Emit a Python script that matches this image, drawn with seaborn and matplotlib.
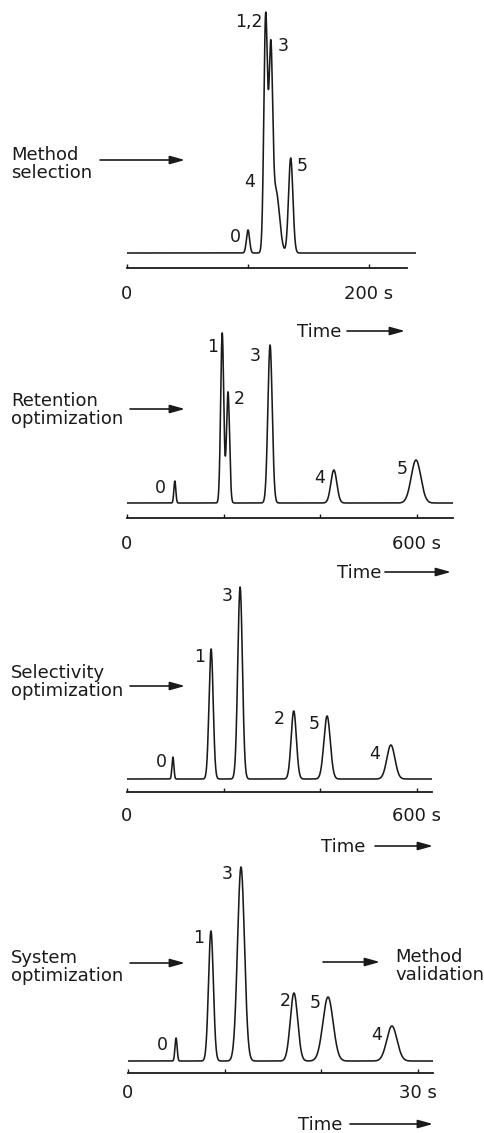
import numpy as np
import pandas as pd
import matplotlib
matplotlib.use("Agg")
import matplotlib.pyplot as plt
import seaborn as sns

# Peak tables
# (retention time in s, height in arbitrary detector units, width sigma in s)
p1_names = ["0", "1,2", "3", "4", "5"]
p1_times = [100.0, 114.6, 118.8, 123.1, 135.3]
p1_heights = [23, 236, 188, 62, 95]
p1_sigmas = [1.3, 1.5, 1.5, 2.9, 1.8]

p2_names = ["0", "1", "2", "3", "4", "5"]
p2_times = [99, 197, 209, 296, 428, 598]
p2_heights = [22, 170, 111, 158, 33, 43]
p2_sigmas = [2.0, 3.2, 3.2, 4.5, 6.2, 10.0]

p3_names = ["0", "1", "3", "2", "5", "4"]
p3_times = [95, 174, 234, 345, 414, 546]
p3_heights = [22, 130, 192, 68, 63, 34]
p3_sigmas = [2.0, 4.3, 4.8, 5.4, 6.6, 8.3]

p4_names = ["0", "1", "3", "2", "5", "4"]
p4_times = [4.97, 8.58, 11.69, 17.17, 20.69, 27.3]
p4_heights = [23, 130, 194, 68, 64, 35]
p4_sigmas = [0.11, 0.25, 0.36, 0.38, 0.53, 0.53]

stage_labels = ["Method\nselection", "Retention\noptimization",
                "Selectivity\noptimization", "System\noptimization"]
tick_values = [[0, 100, 200], [0, 200, 400, 600], [0, 200, 400, 600], [0, 10, 20, 30]]
tick_labels = [["0", "", "200 s"], ["0", "", "", "600 s"],
               ["0", "", "", "600 s"], ["0", "", "", "30 s"]]
run_ends = [238.8, 674.5, 631.0, 31.55]

W, H = 485, 1133
INK = "#1a1a1a"

sns.set_theme(style="white")
plt.rcParams["font.family"] = ["DejaVu Sans"]

fig = plt.figure(figsize=(W / 100, H / 100), dpi=100)


def fx(x):
    return x / W


def fy(y):
    return 1 - y / H


def trace(times, heights, sigmas, t_end):
    t = np.linspace(0, t_end, 6000)
    s = np.zeros_like(t)
    for t0, h, sg in zip(times, heights, sigmas):
        s += h * np.exp(-0.5 * ((t - t0) / sg) ** 2)
    return pd.DataFrame({"time": t, "signal": s})


panels = [
    (p1_names, p1_times, p1_heights, p1_sigmas),
    (p2_names, p2_times, p2_heights, p2_sigmas),
    (p3_names, p3_times, p3_heights, p3_sigmas),
    (p4_names, p4_times, p4_heights, p4_sigmas),
]

# layout in pixels: x of time zero, px per second, baseline y, top y, axis offset, label pad, axis end
layout = [
    dict(x0=127, scale=1.21, base=253, top=10, off=11, pad=12.5, axend=231.4),
    dict(x0=127, scale=0.4833, base=503, top=330, off=11, pad=12.5, axend=674.5),
    dict(x0=127, scale=0.4833, base=779, top=584, off=9, pad=10.5, axend=631.0),
    dict(x0=128, scale=9.667, base=1061, top=864, off=8, pad=8, axend=31.55),
]

# peak label offsets (px, right / down from the peak component's apex)
label_offsets = [
    [(-13, 7), (-17, 5), (12, -19), (-26, -9), (11, 8)],
    [(-14, 7), (-10, 14), (11, 7), (-15, 11), (-14, 8), (-14, 9)],
    [(-12, 5), (-11, 8), (-13, 9), (-14, 8), (-13, 8), (-16, 9)],
    [(-14, 7), (-12, 7), (-14, 7), (-9, 8), (-13, 6), (-15, 9)],
]

for i, ((names, times, heights, sigmas), L) in enumerate(zip(panels, layout)):
    t_end = run_ends[i]
    width_px = t_end * L["scale"]
    pad_b = 4
    height_px = L["base"] - L["top"] + pad_b
    ax = fig.add_axes([fx(L["x0"]), fy(L["base"] + pad_b), width_px / W, height_px / H])
    df = trace(times, heights, sigmas, t_end)
    sns.lineplot(data=df, x="time", y="signal", ax=ax, color=INK, lw=1.15)
    ax.set_xlim(0, t_end)
    ax.set_ylim(-pad_b, L["base"] - L["top"])
    ax.set_xlabel("")
    ax.set_ylabel("")
    ax.set_yticks([])
    for side in ["left", "right", "top"]:
        ax.spines[side].set_visible(False)
    sp = ax.spines["bottom"]
    sp.set_position(("outward", L["off"] * 0.72))
    sp.set_bounds(0, L["axend"])
    sp.set_color(INK)
    sp.set_linewidth(1.3)
    ax.set_xticks(tick_values[i])
    ax.set_xticklabels(tick_labels[i])
    ax.tick_params(axis="x", direction="in", length=3, width=1.0, color=INK,
                   pad=L["pad"], labelsize=13, labelcolor=INK, bottom=True)
    ax.patch.set_alpha(0)

    for name, t0, h, (dx, dy) in zip(names, times, heights, label_offsets[i]):
        ax.annotate(name, xy=(t0, h), xytext=(dx * 0.72, -dy * 0.72),
                    textcoords="offset points", ha="center", va="center",
                    fontsize=12.5, color=INK)

# stage labels and arrows on the left
stage_y = [164, 410, 682, 967]
arrow_x = [(100, 185), (130, 185), (130, 185), (130, 185)]
arrow_y = [160, 409, 686, 963]
for lab, ty, (ax0, ax1), ay in zip(stage_labels, stage_y, arrow_x, arrow_y):
    fig.text(fx(11), fy(ty), lab, ha="left", va="center", fontsize=13,
             color=INK, linespacing=1.05)
    fig.add_artist(matplotlib.patches.FancyArrowPatch(
        (fx(ax0), fy(ay)), (fx(ax1), fy(ay)), transform=fig.transFigure,
        arrowstyle="-|>,head_length=0.9,head_width=0.25", mutation_scale=10,
        lw=1.2, color=INK, shrinkA=0, shrinkB=0))

# method validation arrow and label
fig.add_artist(matplotlib.patches.FancyArrowPatch(
    (fx(323), fy(962)), (fx(380), fy(962)), transform=fig.transFigure,
    arrowstyle="-|>,head_length=0.9,head_width=0.25", mutation_scale=10,
    lw=1.2, color=INK, shrinkA=0, shrinkB=0))
fig.text(fx(395), fy(966), "Method\nvalidation", ha="left", va="center",
         fontsize=13, color=INK, linespacing=1.05)

# "Time ->" captions
time_text = [(319, 332), (359, 573), (343, 847), (320, 1125)]
time_arrow = [(347, 405), (385, 451), (375, 433), (350, 433)]
for (tx, ty), (a0, a1) in zip(time_text, time_arrow):
    fig.text(fx(tx), fy(ty), "Time", ha="center", va="center", fontsize=13, color=INK)
    fig.add_artist(matplotlib.patches.FancyArrowPatch(
        (fx(a0), fy(ty - 1)), (fx(a1), fy(ty - 1)), transform=fig.transFigure,
        arrowstyle="-|>,head_length=0.9,head_width=0.25", mutation_scale=10,
        lw=1.2, color=INK, shrinkA=0, shrinkB=0))

fig.savefig("out.png", dpi=100)
